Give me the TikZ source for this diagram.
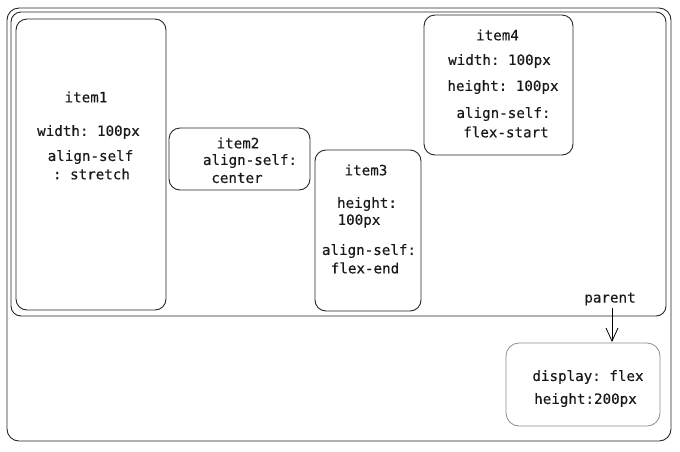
\documentclass[tikz,border=0pt]{standalone}
\usepackage{fontspec}
\setmonofont[FakeBold=0.35]{DejaVu Sans Mono}
\usetikzlibrary{arrows.meta}
\begin{document}
\begin{tikzpicture}[x=1pt,y=-1pt,
  box/.style={draw=black!85,line width=0.9pt,rounded corners=11pt},
  notebox/.style={draw=black!45,line width=0.8pt,rounded corners=13pt},
  lbl/.style={font=\ttfamily\fontsize{14.2}{15}\selectfont,inner sep=0pt,text=black!90}]
\useasboundingbox (0,0) rectangle (680,451);
\draw[box,rounded corners=12pt] (7,8) rectangle (671,441);
\draw[box,rounded corners=10pt] (11,12) rectangle (666,316);
% items
\node[box,minimum width=150pt,minimum height=291pt] (item1) at (91,164.5) {};
\node[box,minimum width=141pt,minimum height=62pt] (item2) at (239.5,159) {};
\node[box,minimum width=106pt,minimum height=161pt] (item3) at (368,230.5) {};
\node[box,minimum width=149pt,minimum height=140pt] (item4) at (498.5,85) {};
\node[notebox,minimum width=154pt,minimum height=83pt] (note) at (583,384.5) {};
% item1 texts
\node[lbl] (t1a) at (86,97) {item1};
\node[lbl] (t1b) at (88.5,132) {width: 100px};
\node[lbl] (t1c) at (90.5,157) {align-self};
\node[lbl] (t1d) at (91.5,174) {: stretch};
% item2 texts
\node[lbl] (t2a) at (238,143) {item2};
\node[lbl] (t2b) at (250,161) {align-self:};
\node[lbl] (t2c) at (237,178) {center};
% item3 texts
\node[lbl] (t3a) at (366,170) {item3};
\node[lbl] (t3b) at (367,204) {height:};
\node[lbl] (t3c) at (359,221) {100px};
\node[lbl] (t3d) at (369,251) {align-self:};
\node[lbl] (t3e) at (365,268) {flex-end};
% item4 texts
\node[lbl] (t4a) at (497.5,35) {item4};
\node[lbl] (t4b) at (499.5,61) {width: 100px};
\node[lbl] (t4c) at (503,87) {height: 100px};
\node[lbl] (t4d) at (503.5,114) {align-self:};
\node[lbl] (t4e) at (506,132) {flex-start};
% parent label and note
\node[lbl] (parent) at (610,299) {parent};
\node[lbl] (n1) at (588,377) {display: flex};
\node[lbl] (n2) at (585.5,400) {height:200px};
\draw[line width=0.8pt,-{Straight Barb[length=13pt,width=12pt,line width=0.8pt]}] (612,307.5) -- (612,342);
\end{tikzpicture}
\end{document}
